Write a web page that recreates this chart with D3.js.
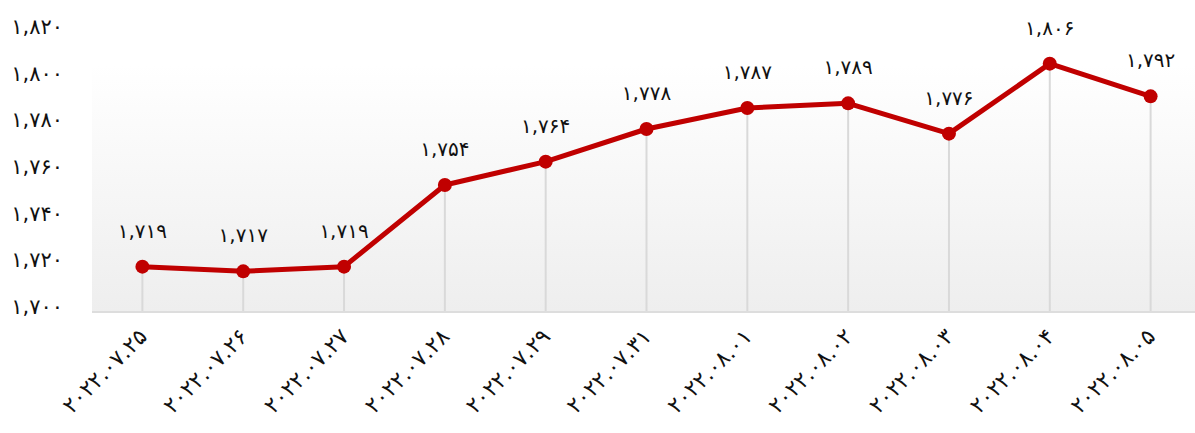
<!DOCTYPE html>
<html>
<head>
<meta charset="utf-8">
<script src="https://cdn.jsdelivr.net/npm/d3@7"></script>
<style>
  body { margin: 0; background: #fff; }
  text { font-family: "DejaVu Sans", sans-serif; fill: #111; }
</style>
</head>
<body>
<div id="chart"></div>
<script>
// chart data
const dates = ['2022.07.25', '2022.07.26', '2022.07.27', '2022.07.28', '2022.07.29', '2022.07.31',
               '2022.08.01', '2022.08.02', '2022.08.03', '2022.08.04', '2022.08.05'];
const values = [1719, 1717, 1719, 1754, 1764, 1778, 1787, 1789, 1776, 1806, 1792];
const yTicks = [1700, 1720, 1740, 1760, 1780, 1800, 1820];

// convert latin digits to persian
const faDigits = '۰۱۲۳۴۵۶۷۸۹';
const toFa = s => String(s).replace(/[0-9]/g, d => faDigits[+d]);
const fmt = v => toFa(d3.format(',')(v));

const width = 1195, height = 433;
const margin = { left: 92, right: -6, top: 65, bottom: 122 };

const svg = d3.select('#chart').append('svg')
    .attr('width', width)
    .attr('height', height);

const x = d3.scalePoint()
    .domain(dates)
    .range([margin.left, width - margin.right])
    .padding(0.5);

const y = d3.scaleLinear()
    .domain([1700, 1820])
    .range([height - margin.bottom, height - margin.bottom - 280]);

// background gradient
const grad = svg.append('defs').append('linearGradient')
    .attr('id', 'bg').attr('x1', 0).attr('y1', 0).attr('x2', 0).attr('y2', 1);
grad.append('stop').attr('offset', '0%').attr('stop-color', '#ffffff');
grad.append('stop').attr('offset', '100%').attr('stop-color', '#eeeeee');

svg.append('rect')
    .attr('x', margin.left)
    .attr('y', margin.top)
    .attr('width', width - margin.left)
    .attr('height', y(1700) - margin.top)
    .attr('fill', 'url(#bg)');

// vertical drop lines
svg.selectAll('.drop')
    .data(values)
    .enter().append('line')
    .attr('x1', (d, i) => x(dates[i]))
    .attr('x2', (d, i) => x(dates[i]))
    .attr('y1', d => y(d))
    .attr('y2', y(1700))
    .attr('stroke', '#d9d9d9')
    .attr('stroke-width', 2);

// bottom axis line
svg.append('line')
    .attr('x1', margin.left).attr('x2', width)
    .attr('y1', y(1700) + 1).attr('y2', y(1700) + 1)
    .attr('stroke', '#dddddd')
    .attr('stroke-width', 2);

// y axis labels
svg.selectAll('.ylab')
    .data(yTicks)
    .enter().append('text')
    .attr('x', 63)
    .attr('y', d => y(d) + 3)
    .attr('text-anchor', 'end')
    .attr('font-size', '21px')
    .text(d => fmt(d));

// x axis labels
svg.selectAll('.xlab')
    .data(dates)
    .enter().append('text')
    .attr('transform', d => `translate(${x(d) + 6},${y(1700) + 27}) rotate(-45)`)
    .attr('text-anchor', 'end')
    .attr('font-size', '22px')
    .attr('letter-spacing', '1px')
    .text(d => toFa(d));

// line
const line = d3.line()
    .x((d, i) => x(dates[i]))
    .y(d => y(d));

svg.append('path')
    .datum(values)
    .attr('d', line)
    .attr('fill', 'none')
    .attr('stroke', '#c00000')
    .attr('stroke-width', 5)
    .attr('stroke-linejoin', 'round');

svg.selectAll('.dot')
    .data(values)
    .enter().append('circle')
    .attr('cx', (d, i) => x(dates[i]))
    .attr('cy', d => y(d))
    .attr('r', 7)
    .attr('fill', '#c00000');

// value labels
svg.selectAll('.vlab')
    .data(values)
    .enter().append('text')
    .attr('x', (d, i) => x(dates[i]))
    .attr('y', d => y(d) - 29)
    .attr('text-anchor', 'middle')
    .attr('font-size', '20px')
    .text(d => fmt(d));
</script>
</body>
</html>
